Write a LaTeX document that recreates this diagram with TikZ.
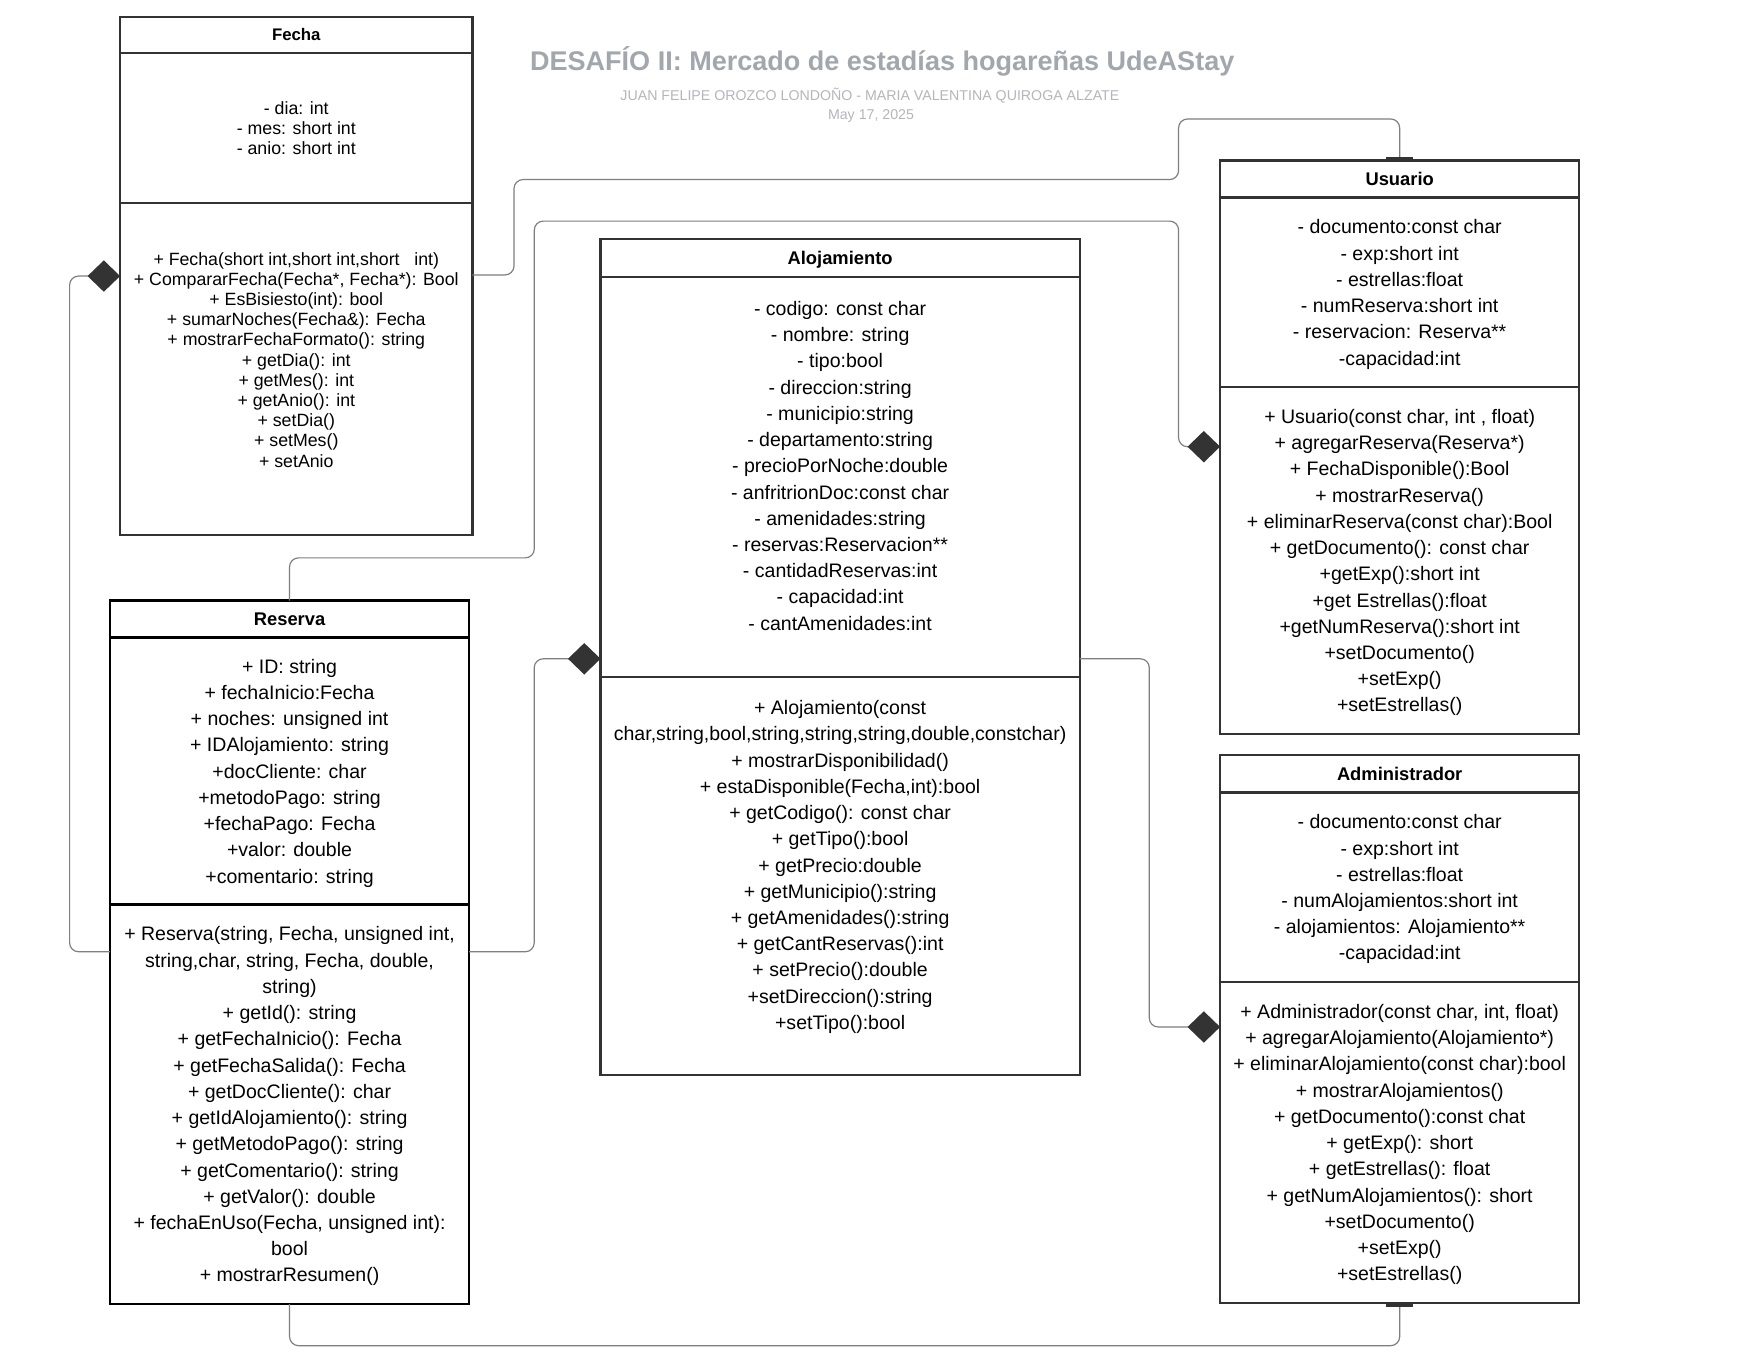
\documentclass[tikz,border=0pt]{standalone}
\usepackage{fontspec}
\setmainfont{Liberation Sans}
\usepackage{tikz}
\usetikzlibrary{arrows.meta, calc}
\definecolor{boxc}{HTML}{333333}
\definecolor{linec}{HTML}{7F7F7F}
\definecolor{ttlc}{HTML}{A2A6AD}
\definecolor{subc}{HTML}{B3B6BB}
\tikzset{
  sec/.style   = {draw=boxc, line width=1.1pt, rectangle, anchor=north west,
                  inner sep=0pt, outer sep=0pt, align=center, text depth=-0.15cm,
                  font=\fontsize{9.9}{13.3}\selectfont},
  secb/.style  = {sec, draw=black, line width=1.25pt},
  hd/.style    = {font=\fontsize{9.3}{11}\selectfont\bfseries, text depth=-0.08cm},
  fsmall/.style= {font=\fontsize{9}{10.24}\selectfont},
  link/.style  = {draw=linec, line width=0.6pt, rounded corners=1.6mm},
  comp/.style  = {link, -{Diamond[length=5.8mm, width=5.6mm, color=boxc, fill=boxc]}},
  ends/.style  = {link, -{Bar[width=4.8mm, line width=1.8pt, color=boxc]}},
}

\begin{document}
\begin{tikzpicture}[x=0.02cm, y=-0.02cm]
  \fill[white] (0,0) rectangle (1568,1212);
  \useasboundingbox (0,0) rectangle (1568,1212);

  \node[font=\fontsize{13.7}{16}\selectfont\bfseries, text=ttlc] (titulo) at (786,55)
    {DESAFÍO II: Mercado de estadías hogareñas UdeAStay};
  \node[font=\fontsize{7.2}{9}\selectfont, text=subc] (autores) at (775,85)
    {JUAN FELIPE OROZCO LONDOÑO - MARIA VALENTINA QUIROGA ALZATE};
  \node[font=\fontsize{7.2}{9}\selectfont, text=subc] (dia) at (776,103) {May 17, 2025};

  % Fecha
  \node[sec, hd, font=\fontsize{8.5}{10}\selectfont\bfseries, minimum width=6.28cm,
        minimum height=0.64cm] (fechaT) at (107,15) {Fecha};
  \node[sec, fsmall, minimum width=6.28cm, minimum height=2.68cm, text depth=-0.04cm]
    (fechaA) at (fechaT.south west)
    {- dia: int\\- mes: short int\\- anio: short int};
  \node[sec, fsmall, minimum width=6.28cm, minimum height=5.92cm, text depth=0.34cm]
    (fechaM) at (fechaA.south west)
    {+ Fecha(short int,short int,short\ \ \ int)\\+ CompararFecha(Fecha*, Fecha*): Bool\\
     + EsBisiesto(int): bool\\+ sumarNoches(Fecha\&): Fecha\\+ mostrarFechaFormato(): string\\
     + getDia(): int\\+ getMes(): int\\+ getAnio(): int\\+ setDia()\\+ setMes()\\+ setAnio};

  % Alojamiento
  \node[sec, hd, minimum width=8.54cm, minimum height=0.68cm, text depth=-0.16cm]
    (aloT) at (535,213) {Alojamiento};
  \node[sec, minimum width=8.54cm, minimum height=7.12cm, text depth=0.40cm]
    (aloA) at (aloT.south west)
    {- codigo: const char\\- nombre: string\\- tipo:bool\\- direccion:string\\
     - municipio:string\\- departamento:string\\- precioPorNoche:double\\
     - anfritrionDoc:const char\\- amenidades:string\\- reservas:Reservacion**\\
     - cantidadReservas:int\\- capacidad:int\\- cantAmenidades:int};
  \node[sec, minimum width=8.54cm, minimum height=7.10cm, text depth=0.39cm]
    (aloM) at (aloA.south west)
    {+ Alojamiento(const\\char,string,bool,string,string,string,double,constchar)\\
     + mostrarDisponibilidad()\\+ estaDisponible(Fecha,int):bool\\+ getCodigo(): const char\\
     + getTipo():bool\\+ getPrecio:double\\+ getMunicipio():string\\+ getAmenidades():string\\
     + getCantReservas():int\\+ setPrecio():double\\+setDireccion():string\\+setTipo():bool};

  % Usuario
  \node[sec, hd, minimum width=6.40cm, minimum height=0.66cm] (usuT) at (1087,143) {Usuario};
  \node[sec, minimum width=6.40cm, minimum height=3.38cm] (usuA) at (usuT.south west)
    {- documento:const char\\- exp:short int\\- estrellas:float\\- numReserva:short int\\
     - reservacion: Reserva**\\-capacidad:int};
  \node[sec, minimum width=6.40cm, minimum height=6.18cm] (usuM) at (usuA.south west)
    {+ Usuario(const char, int , float)\\+ agregarReserva(Reserva*)\\+ FechaDisponible():Bool\\
     + mostrarReserva()\\+ eliminarReserva(const char):Bool\\+ getDocumento(): const char\\
     +getExp():short int\\+get Estrellas():float\\+getNumReserva():short int\\
     +setDocumento()\\+setExp()\\+setEstrellas()};

  % Administrador
  \node[sec, hd, minimum width=6.40cm, minimum height=0.66cm] (admT) at (1087,673) {Administrador};
  \node[sec, minimum width=6.40cm, minimum height=3.38cm] (admA) at (admT.south west)
    {- documento:const char\\- exp:short int\\- estrellas:float\\- numAlojamientos:short int\\
     - alojamientos: Alojamiento**\\-capacidad:int};
  \node[sec, minimum width=6.40cm, minimum height=5.72cm] (admM) at (admA.south west)
    {+ Administrador(const char, int, float)\\+ agregarAlojamiento(Alojamiento*)\\
     + eliminarAlojamiento(const char):bool\\+ mostrarAlojamientos()\\
     + getDocumento():const chat\\+ getExp(): short\\+ getEstrellas(): float\\
     + getNumAlojamientos(): short\\+setDocumento()\\+setExp()\\+setEstrellas()};

  % Reserva
  \node[secb, hd, minimum width=6.40cm, minimum height=0.66cm] (resT) at (98,535) {Reserva};
  \node[secb, minimum width=6.40cm, minimum height=4.76cm, text depth=-0.20cm]
    (resA) at (resT.south west)
    {+ ID: string\\+ fechaInicio:Fecha\\+ noches: unsigned int\\+ IDAlojamiento: string\\
     +docCliente: char\\+metodoPago: string\\+fechaPago: Fecha\\+valor: double\\
     +comentario: string};
  \node[secb, minimum width=6.40cm, minimum height=7.12cm, text depth=-0.28cm]
    (resM) at (resA.south west)
    {+ Reserva(string, Fecha, unsigned int,\\string,char, string, Fecha, double,\\string)\\
     + getId(): string\\+ getFechaInicio(): Fecha\\+ getFechaSalida(): Fecha\\
     + getDocCliente(): char\\+ getIdAlojamiento(): string\\+ getMetodoPago(): string\\
     + getComentario(): string\\+ getValor(): double\\+ fechaEnUso(Fecha, unsigned int):\\
     bool\\+ mostrarResumen()};

  % relaciones
  \draw[ends] ([yshift=1.68cm]fechaM.east) -- ++(37,0) |- (1050,160) |- (usuT.north |- 0,106)
    -- (usuT.north);
  \draw[comp] (resT.north) -- ++(0,-38) -| (476,197) -| (1050,398) -- ([yshift=2.03cm]usuM.west);
  \draw[comp] ([yshift=-3.24cm]aloA.east) -- ++(62,0) |- ([yshift=2.06cm]admM.west);
  \draw[comp] ([yshift=2.72cm]resM.east) -- ++(58,0) |- ([yshift=-3.24cm]aloA.west);
  \draw[comp] ([yshift=2.72cm]resM.west) -- ++(-36,0) |- ([yshift=1.66cm]fechaM.west);
  \draw[ends] (resM.south) -- ++(0,37) -| (admM.south);
\end{tikzpicture}
\end{document}
